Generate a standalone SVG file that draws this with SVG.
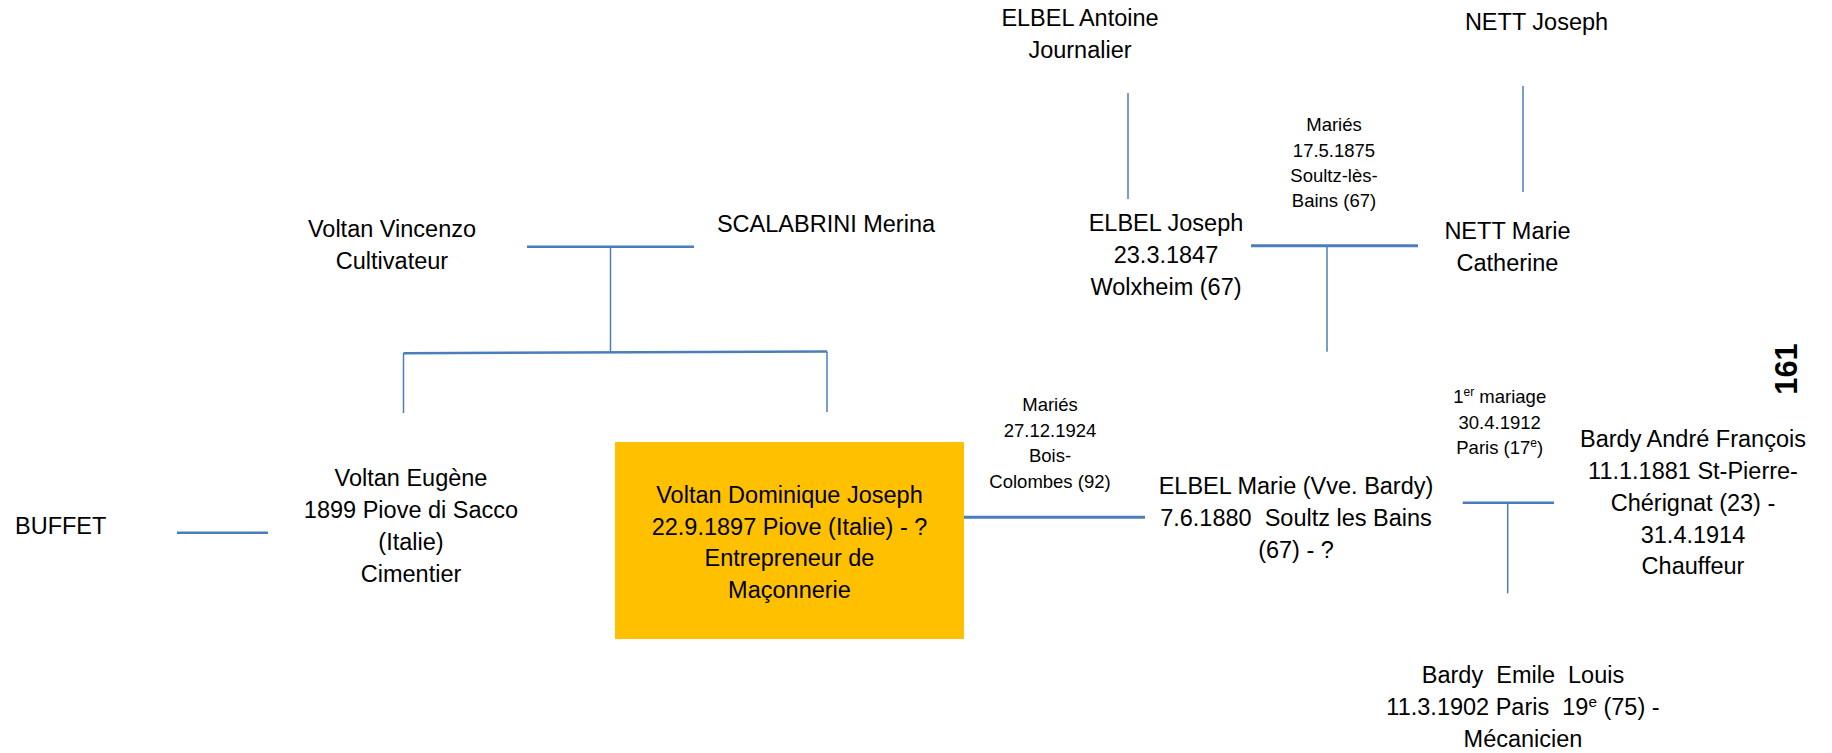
<svg xmlns="http://www.w3.org/2000/svg" width="1832" height="753" viewBox="0 0 1832 753">
<style>
text { font-family: "Liberation Sans", Arial, sans-serif; fill: #000; white-space: pre; }
.n { font-size: 23.5px; text-anchor: middle; }
.s { font-size: 18.5px; text-anchor: middle; }
.c line { stroke: #4A7EBB; fill: none; }
.t { stroke-width: 1.5; }
.m { stroke-width: 2.5; }
.k { stroke-width: 3; }
.sup { font-size: 65%; }
</style>
<rect width="1832" height="753" fill="#fff"/>
<g id="connectors" class="c">
  <line class="m" x1="527" y1="246.7" x2="694" y2="246.7"/>
  <line class="t" x1="610.5" y1="246.7" x2="610.5" y2="352.5"/>
  <line class="m" x1="403.5" y1="353.3" x2="827" y2="351.5"/>
  <line class="t" x1="403.5" y1="353" x2="403.5" y2="413"/>
  <line class="t" x1="827" y1="351.5" x2="827" y2="412"/>
  <line class="m" x1="177" y1="532.7" x2="268" y2="532.7"/>
  <line class="t" x1="1128" y1="93" x2="1128" y2="199"/>
  <line class="t" x1="1523" y1="86" x2="1523" y2="192"/>
  <line class="k" x1="1251" y1="245.7" x2="1418" y2="245.7"/>
  <line class="t" x1="1327" y1="245.7" x2="1327" y2="351.7"/>
  <line class="k" x1="964" y1="517.3" x2="1145" y2="517.3"/>
  <line class="m" x1="1462.7" y1="502.7" x2="1554" y2="502.7"/>
  <line class="t" x1="1507.7" y1="502.7" x2="1507.7" y2="593.3"/>
</g>
<g id="voltan-vincenzo">
  <text class="n" x="392" y="237">Voltan Vincenzo</text>
  <text class="n" x="392" y="269">Cultivateur</text>
</g>
<g id="scalabrini-merina">
  <text class="n" x="826" y="232">SCALABRINI Merina</text>
</g>
<g id="buffet">
  <text x="15" y="534" font-size="23.5">BUFFET</text>
</g>
<g id="voltan-eugene">
  <text class="n" x="411" y="486">Voltan Eugène</text>
  <text class="n" x="411" y="518">1899 Piove di Sacco</text>
  <text class="n" x="411" y="550">(Italie)</text>
  <text class="n" x="411" y="582">Cimentier</text>
</g>
<g id="voltan-dominique">
  <rect x="615" y="442" width="349" height="197" fill="#FFC000"/>
  <text class="n" x="789.5" y="503">Voltan Dominique Joseph</text>
  <text class="n" x="789.5" y="534.5">22.9.1897 Piove (Italie) - ?</text>
  <text class="n" x="789.5" y="566">Entrepreneur de</text>
  <text class="n" x="789.5" y="597.5">Maçonnerie</text>
</g>
<g id="elbel-antoine">
  <text class="n" x="1080" y="26">ELBEL Antoine</text>
  <text class="n" x="1080" y="57.5">Journalier</text>
</g>
<g id="nett-joseph">
  <text class="n" x="1536.5" y="30">NETT Joseph</text>
</g>
<g id="elbel-joseph">
  <text class="n" x="1166" y="231">ELBEL Joseph</text>
  <text class="n" x="1166" y="263">23.3.1847</text>
  <text class="n" x="1166" y="294.5">Wolxheim (67)</text>
</g>
<g id="nett-marie">
  <text class="n" x="1507.5" y="238.5">NETT Marie</text>
  <text class="n" x="1507.5" y="270.7">Catherine</text>
</g>
<g id="mariage-1875">
  <text class="s" x="1334" y="131">Mariés</text>
  <text class="s" x="1334" y="156.7">17.5.1875</text>
  <text class="s" x="1334" y="181.7">Soultz-lès-</text>
  <text class="s" x="1334" y="207.3">Bains (67)</text>
</g>
<g id="mariage-1924">
  <text class="s" x="1050" y="410.7">Mariés</text>
  <text class="s" x="1050" y="436.7">27.12.1924</text>
  <text class="s" x="1050" y="461.7">Bois-</text>
  <text class="s" x="1050" y="487.7">Colombes (92)</text>
</g>
<g id="elbel-marie">
  <text class="n" x="1296" y="494">ELBEL Marie (Vve. Bardy)</text>
  <text class="n" x="1296" y="525.7">7.6.1880  Soultz les Bains</text>
  <text class="n" x="1296" y="558.3">(67) - ?</text>
</g>
<g id="mariage-1912">
  <text class="s" x="1499.7" y="403.3">1<tspan class="sup" dy="-7">er</tspan><tspan dy="7"> mariage</tspan></text>
  <text class="s" x="1499.7" y="429.3">30.4.1912</text>
  <text class="s" x="1499.7" y="454.3">Paris (17<tspan class="sup" dy="-7">e</tspan><tspan dy="7">)</tspan></text>
</g>
<g id="bardy-andre">
  <text class="n" x="1693" y="447.3">Bardy André François</text>
  <text class="n" x="1693" y="479">11.1.1881 St-Pierre-</text>
  <text class="n" x="1693" y="510.7">Chérignat (23) -</text>
  <text class="n" x="1693" y="542.7">31.4.1914</text>
  <text class="n" x="1693" y="574.3">Chauffeur</text>
</g>
<g id="bardy-emile">
  <text class="n" x="1523" y="683.3">Bardy  Emile  Louis</text>
  <text class="n" x="1523" y="715">11.3.1902 Paris  19<tspan class="sup" dy="-8">e</tspan><tspan dy="8"> (75) -</tspan></text>
  <text class="n" x="1523" y="746.7">Mécanicien</text>
</g>
<g id="page-number">
  <text transform="translate(1797,369) rotate(-90)" font-size="31" font-weight="bold" text-anchor="middle">161</text>
</g>
</svg>
